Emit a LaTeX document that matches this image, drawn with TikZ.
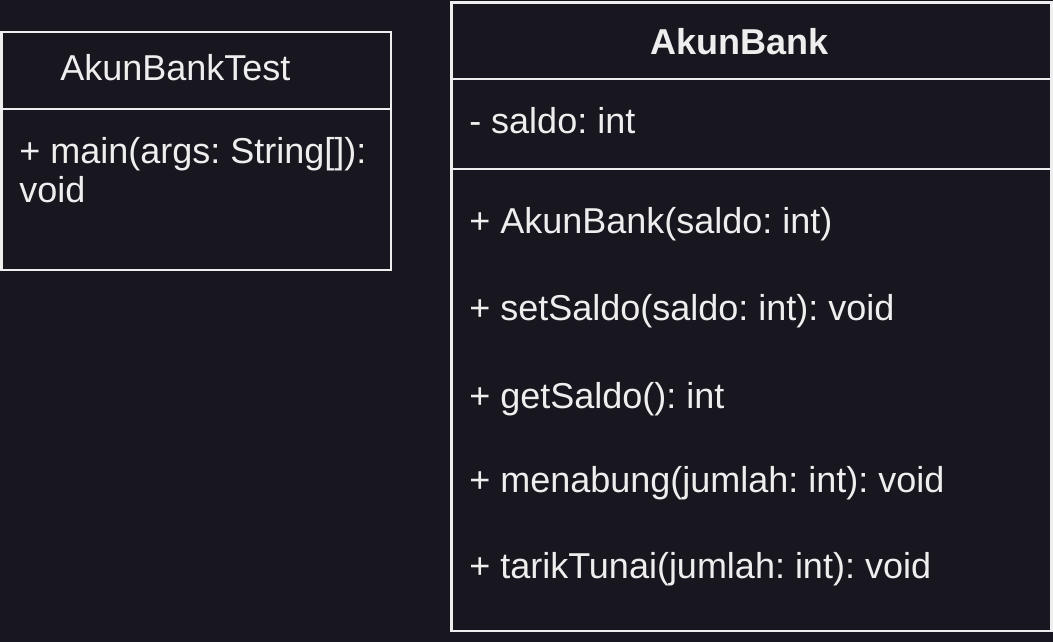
\documentclass[tikz,border=0pt]{standalone}
\usepackage{fontspec}
\setmainfont{Liberation Sans}
\frenchspacing
\definecolor{bgdark}{HTML}{18161E}
\definecolor{linegray}{HTML}{EEEEEE}

\begin{document}
\begin{tikzpicture}[x=0.75pt, y=-0.75pt,
    boxline/.style={draw=linegray, line width=2.2pt},
    umltext/.style={text=linegray, font=\fontsize{27}{32}\selectfont, anchor=base west, inner sep=0pt}
    ]
        %Background
        \fill[bgdark] (0,0) rectangle (1053,642);
        \useasboundingbox (0,0) rectangle (1053,642);

        %Boxes
        \draw[boxline] (1.5,32) rectangle (391,270);
        \draw[boxline] (1.5,109) -- (391,109);
        \draw[boxline] (451.5,2.5) rectangle (1051.5,631);
        \draw[boxline] (451.5,79) -- (1051.5,79);
        \draw[boxline] (451.5,169) -- (1051.5,169);

        %AkunBankTest
        \node[umltext] (testname) at (60,81) {AkunBankTest};
        \node[umltext] (testmain) at (19,163) {+ main(args: String[]):};
        \node[umltext] (testvoid) at (19,202) {void};

        %AkunBank
        \node[umltext, anchor=base, font=\fontsize{27}{32}\selectfont\bfseries]
            (bankname) at (740,55) {AkunBank};
        \node[umltext] (saldo)    at (469,133) {- saldo: int};
        \node[umltext] (ctor)     at (469,233) {+ AkunBank(saldo: int)};
        \node[umltext] (setter)   at (469,320) {+ setSaldo(saldo: int): void};
        \node[umltext] (getter)   at (469,408) {+ getSaldo(): int};
        \node[umltext] (menabung) at (469,492) {+ menabung(jumlah: int): void};
        \node[umltext] (tarik)    at (469,578) {+ tarikTunai(jumlah: int): void};
    \end{tikzpicture}
\end{document}
